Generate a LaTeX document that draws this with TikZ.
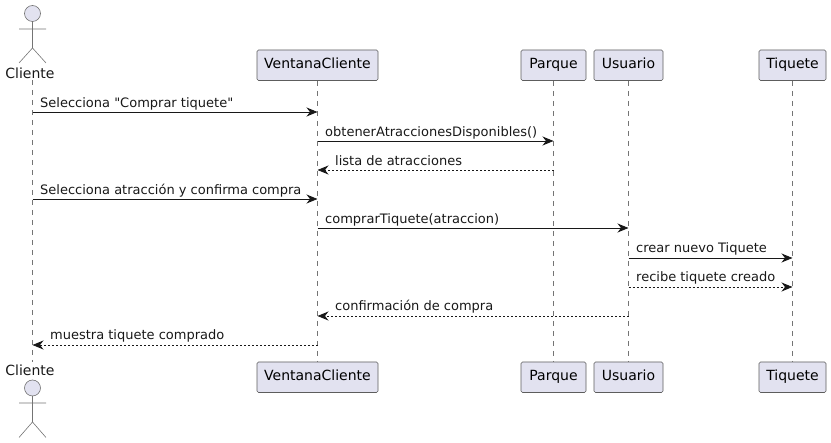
\documentclass[tikz,border=0pt]{standalone}
\usepackage{fontspec}
\setmainfont{DejaVu Sans}[Ligatures=TeXOff]
\usetikzlibrary{arrows.meta}
\definecolor{partfill}{HTML}{E2E2F0}
\definecolor{partline}{HTML}{181818}
\tikzset{
  partbox/.style={draw=partline!70, fill=partfill, rounded corners=1.5pt, line width=.6pt, minimum height=30.5pt, inner sep=0pt, text height=10.5pt, text depth=3pt, font=\fontsize{14}{14}\selectfont},
  actorpart/.style={draw=partline!60, line width=.6pt},
  lifeline/.style={draw=partline!60, line width=.6pt, dash pattern=on 5pt off 5pt},
  msg/.style={draw=partline, line width=.9pt, -{Stealth[length=11pt,width=9pt,inset=3.5pt]}},
  msgback/.style={msg, dash pattern=on 2pt off 2pt},
  msgtext/.style={anchor=base west, inner sep=0pt, font=\fontsize{13}{13}\selectfont, text=partline},
  actortext/.style={inner sep=0pt, font=\fontsize{14}{14}\selectfont, text=partline}
}
\begin{document}
\begin{tikzpicture}[x=1pt,y=-1pt]
\useasboundingbox (0,0) rectangle (831,443);
%% Participants, top row and bottom row
\coordinate (clienteTop) at (32.5,80);
\coordinate (clienteBot) at (32.5,362);
\node[partbox, minimum width=121pt] (ventanaTop) at (317.5,65.25) {VentanaCliente};
\node[partbox, minimum width=121pt] (ventanaBot) at (317.5,377.25) {VentanaCliente};
\node[partbox, minimum width=65pt] (parqueTop) at (553.5,65.25) {Parque};
\node[partbox, minimum width=65pt] (parqueBot) at (553.5,377.25) {Parque};
\node[partbox, minimum width=69pt] (usuarioTop) at (628.5,65.25) {Usuario};
\node[partbox, minimum width=69pt] (usuarioBot) at (628.5,377.25) {Usuario};
\node[partbox, minimum width=67pt] (tiqueteTop) at (792.5,65.25) {Tiquete};
\node[partbox, minimum width=67pt] (tiqueteBot) at (792.5,377.25) {Tiquete};
%% Lifelines
\draw[lifeline] (clienteTop) -- (clienteBot);
\draw[lifeline] (ventanaTop) -- (ventanaBot);
\draw[lifeline] (parqueTop) -- (parqueBot);
\draw[lifeline] (usuarioTop) -- (usuarioBot);
\draw[lifeline] (tiqueteTop) -- (tiqueteBot);
%% Top actor
\draw[actorpart, fill=partfill] (32.5,13.5) circle (8);
\draw[actorpart] (32.5,21.5) -- (32.5,48) (19,29) -- (46,29) (19,63) -- (32.5,48) -- (46,63);
\node[actortext] (clienteText) at (30,73) {Cliente};
%% Bottom actor
\draw[actorpart, fill=partfill] (32.5,388) circle (8);
\draw[actorpart] (32.5,396) -- (32.5,422) (19,403) -- (46,403) (19,437.5) -- (32.5,422) -- (46,437.5);
\node[actortext] (clienteTextBot) at (30,370) {Cliente};
%% Messages, top to bottom
\draw[msg] (clienteTop |- 0,112) -- (ventanaTop |- 0,112);
\node[msgtext] (lab1) at (40,107.5) {Selecciona "Comprar tiquete"};
\draw[msg] (ventanaTop |- 0,141) -- (parqueTop |- 0,141);
\node[msgtext] (lab2) at (325,136.5) {obtenerAtraccionesDisponibles()};
\draw[msgback] (parqueTop |- 0,170) -- (ventanaTop |- 0,170);
\node[msgtext] (lab3) at (335,165.5) {lista de atracciones};
\draw[msg] (clienteTop |- 0,199) -- (ventanaTop |- 0,199);
\node[msgtext] (lab4) at (40,194.5) {Selecciona atracción y confirma compra};
\draw[msg] (ventanaTop |- 0,228) -- (usuarioTop |- 0,228);
\node[msgtext] (lab5) at (325,223.5) {comprarTiquete(atraccion)};
\draw[msg] (usuarioTop |- 0,258) -- (tiqueteTop |- 0,258);
\node[msgtext] (lab6) at (636,253) {crear nuevo Tiquete};
\draw[msgback] (usuarioTop |- 0,287) -- (tiqueteTop |- 0,287);
\node[msgtext] (lab7) at (636,282) {recibe tiquete creado};
\draw[msgback] (usuarioTop |- 0,316) -- (ventanaTop |- 0,316);
\node[msgtext] (lab8) at (335,311) {confirmación de compra};
\draw[msgback] (ventanaTop |- 0,345) -- (clienteTop |- 0,345);
\node[msgtext] (lab9) at (50,340) {muestra tiquete comprado};
\end{tikzpicture}
\end{document}
